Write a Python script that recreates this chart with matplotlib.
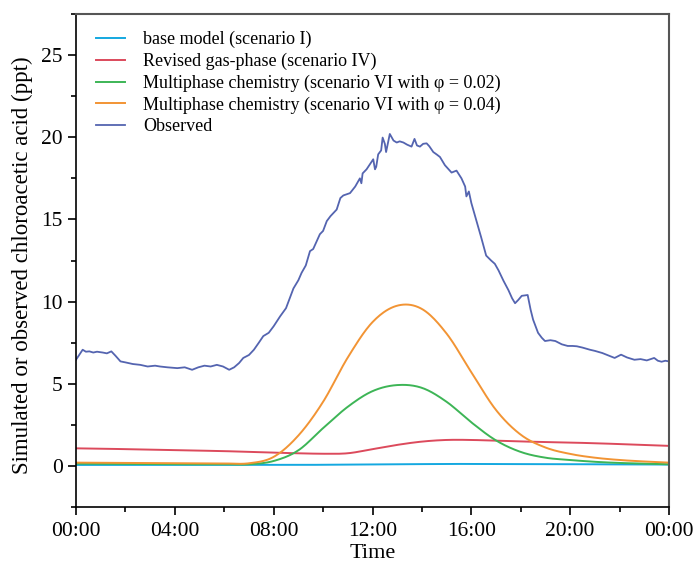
import matplotlib
matplotlib.use('Agg')
import matplotlib.pyplot as plt
import numpy as np

plt.rcParams['font.family'] = ['Liberation Serif', 'DejaVu Serif']

# observed chloroacetic acid (ppt), hour of day
obs_h = [0.0, 0.15, 0.27, 0.4, 0.54, 0.7, 0.85, 1.08, 1.25, 1.43, 1.6, 1.8, 2.0, 2.3, 2.6, 2.9, 3.2,
         3.4, 3.7, 4.1, 4.4, 4.7, 4.95, 5.2, 5.45, 5.7, 5.95, 6.2, 6.4, 6.6, 6.77, 7.0, 7.2, 7.4, 7.58,
         7.8, 8.0, 8.26, 8.5, 8.8, 9.0, 9.13, 9.3, 9.47, 9.6, 9.87, 10.0, 10.15, 10.3, 10.55, 10.7,
         10.82, 11.09, 11.3, 11.49, 11.55, 11.6, 11.76, 12.03, 12.1, 12.15, 12.23, 12.35, 12.41, 12.5,
         12.55, 12.7, 12.85, 12.98, 13.1, 13.25, 13.4, 13.58, 13.7, 13.8, 13.92, 14.05, 14.19, 14.3,
         14.46, 14.6, 14.73, 14.93, 15.05, 15.2, 15.4, 15.6, 15.75, 15.8, 15.9, 16.0, 16.2, 16.4, 16.6,
         16.8, 16.95, 17.1, 17.3, 17.5, 17.65, 17.77, 17.9, 18.04, 18.28, 18.4, 18.5, 18.7, 18.85,
         18.98, 19.2, 19.4, 19.66, 19.9, 20.1, 20.27, 20.5, 20.8, 21.0, 21.3, 21.5, 21.8, 22.06, 22.3,
         22.6, 22.85, 23.1, 23.4, 23.55, 23.7, 23.85, 24.0]
obs_v = [6.46, 6.8, 7.07, 6.95, 6.97, 6.9, 6.95, 6.9, 6.85, 6.97, 6.7, 6.36, 6.3, 6.2, 6.15, 6.05, 6.1,
         6.05, 6.0, 5.95, 6.0, 5.85, 6.0, 6.1, 6.05, 6.15, 6.05, 5.85, 6.0, 6.26, 6.57, 6.75, 7.07, 7.5,
         7.9, 8.1, 8.5, 9.1, 9.6, 10.8, 11.3, 11.75, 12.2, 13.07, 13.2, 14.1, 14.3, 14.9, 15.2, 15.6,
         16.3, 16.46, 16.6, 17.0, 17.5, 17.2, 17.8, 18.05, 18.66, 18.05, 18.2, 18.96, 19.2, 19.98,
         19.6, 19.1, 20.2, 19.8, 19.68, 19.75, 19.68, 19.55, 19.43, 19.9, 19.5, 19.43, 19.6, 19.63,
         19.45, 19.1, 18.95, 18.8, 18.3, 18.1, 17.85, 17.97, 17.5, 17.0, 16.4, 16.7, 16.0, 14.95, 13.9,
         12.8, 12.5, 12.3, 11.9, 11.27, 10.7, 10.2, 9.9, 10.1, 10.35, 10.4, 9.5, 8.9, 8.1, 7.8, 7.6,
         7.65, 7.6, 7.4, 7.3, 7.3, 7.28, 7.2, 7.07, 7.0, 6.87, 6.75, 6.57, 6.77, 6.6, 6.46, 6.5, 6.42,
         6.57, 6.4, 6.34, 6.4, 6.36]

# model runs, hourly
mod_h = list(range(0, 25))
base = [0.06, 0.06, 0.06, 0.06, 0.06, 0.06, 0.06, 0.06, 0.06, 0.06, 0.07, 0.08, 0.09, 0.1, 0.11,
        0.12, 0.12, 0.12, 0.11, 0.11, 0.1, 0.1, 0.09, 0.09, 0.08]
revised = [1.07, 1.05, 1.02, 0.99, 0.96, 0.93, 0.9, 0.85, 0.8, 0.77, 0.74, 0.77, 1.02, 1.28, 1.48,
           1.58, 1.58, 1.53, 1.49, 1.45, 1.42, 1.38, 1.33, 1.28, 1.22]
phi002 = [0.14, 0.13, 0.12, 0.11, 0.1, 0.1, 0.1, 0.1, 0.3, 0.95, 2.3, 3.6, 4.55, 4.92, 4.75, 3.9,
          2.65, 1.55, 0.85, 0.5, 0.36, 0.25, 0.18, 0.14, 0.1]
phi004 = [0.2, 0.19, 0.18, 0.17, 0.16, 0.15, 0.15, 0.16, 0.55, 1.85, 3.9, 6.6, 8.75, 9.75, 9.55,
          8.05, 5.7, 3.4, 1.9, 1.12, 0.73, 0.5, 0.36, 0.27, 0.2]


def suave(h, v, n=20):
    # catmull-rom entre los puntos horarios
    h = np.asarray(h, float)
    v = np.asarray(v, float)
    p = np.concatenate([[2 * v[0] - v[1]], v, [2 * v[-1] - v[-2]]])
    xs, ys = [], []
    t = np.linspace(0, 1, n, endpoint=False)
    for i in range(len(v) - 1):
        p0, p1, p2, p3 = p[i], p[i + 1], p[i + 2], p[i + 3]
        y = 0.5 * (2 * p1 + (-p0 + p2) * t + (2 * p0 - 5 * p1 + 4 * p2 - p3) * t ** 2
                   + (-p0 + 3 * p1 - 3 * p2 + p3) * t ** 3)
        xs.append(h[i] + t * (h[i + 1] - h[i]))
        ys.append(y)
    xs.append([h[-1]])
    ys.append([v[-1]])
    return np.concatenate(xs), np.concatenate(ys)


fig = plt.figure(figsize=(6.94, 5.66), dpi=100)
ax = fig.add_axes([76 / 694, 1 - 507 / 566, 593 / 694, 493 / 566])

x, y = suave(mod_h, base)
ax.plot(x, y, color='#14a8e0', lw=1.4, label='base model (scenario I)')
x, y = suave(mod_h, revised)
ax.plot(x, y, color='#dc4a5c', lw=1.4, label='Revised gas-phase (scenario IV)')
x, y = suave(mod_h, phi002)
ax.plot(x, y, color='#3db556', lw=1.4, label='Multiphase chemistry (scenario VI with φ = 0.02)')
x, y = suave(mod_h, phi004)
ax.plot(x, y, color='#f29434', lw=1.4, label='Multiphase chemistry (scenario VI with φ = 0.04)')
ax.plot(obs_h, obs_v, color='#5464b0', lw=1.3, label='Observed')

ax.set_xlim(0, 24)
ax.set_ylim(-2.5, 27.5)
ax.set_xticks(range(0, 25, 4))
ax.set_xticks(range(0, 25, 2), minor=True)
ax.set_xticklabels(['00:00', '04:00', '08:00', '12:00', '16:00', '20:00', '00:00'])
ax.set_yticks([0, 5, 10, 15, 20, 25])
ax.set_yticks(np.arange(-2.5, 27.6, 2.5), minor=True)
ax.tick_params(axis='both', which='major', direction='out', length=6, width=1.2, labelsize=15.5)
ax.tick_params(axis='both', which='minor', direction='out', length=3.5, width=1.2)
ax.tick_params(axis='x', pad=5)
for s in ['top', 'right']:
    ax.spines[s].set_color('#555555')
    ax.spines[s].set_linewidth(1.5)
for s in ['left', 'bottom']:
    ax.spines[s].set_linewidth(1.2)

ax.set_xlabel('Time', fontsize=16, labelpad=2)
ax.set_ylabel('Simulated or observed chloroacetic acid (ppt)', fontsize=16.5)
ax.yaxis.set_label_coords(-0.073, 0.49)

ax.legend(loc='upper left', frameon=False, fontsize=13, handlelength=1.6, handletextpad=1.0,
          labelspacing=0.25, borderaxespad=0.0, bbox_to_anchor=(0.022, 0.98))

fig.savefig('out.png', dpi=100)
